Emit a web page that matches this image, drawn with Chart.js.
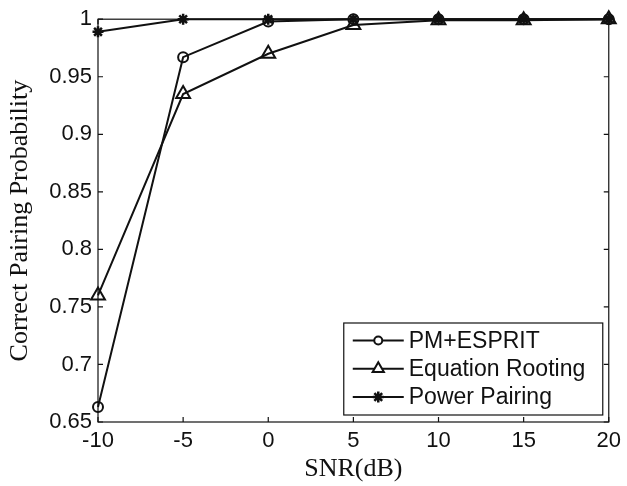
<!DOCTYPE html>
<html><head><meta charset="utf-8">
<script src="https://cdn.jsdelivr.net/npm/chart.js@4"></script>
<style>html,body{margin:0;padding:0;background:#fff}</style>
</head><body>
<canvas id="c" width="627" height="486" style="display:block;width:627px;height:486px"></canvas>
<script>
// ---- data ----
const snr = [-10, -5, 0, 5, 10, 15, 20];
const pmEsprit = [0.663, 0.967, 0.998, 1.0, 1.0, 1.0, 1.0];
const eqRooting = [0.760, 0.935, 0.970, 0.995, 0.999, 0.999, 1.0];
const powerPairing = [0.989, 1.0, 1.0, 1.0, 1.0, 1.0, 1.0];
const seriesNames = ['PM+ESPRIT', 'Equation Rooting', 'Power Pairing'];
const xTickValues = [-10, -5, 0, 5, 10, 15, 20];
const xTickLabels = ['-10', '-5', '0', '5', '10', '15', '20'];
const yTickValues = [0.65, 0.7, 0.75, 0.8, 0.85, 0.9, 0.95, 1];
const yTickLabels = ['0.65', '0.7', '0.75', '0.8', '0.85', '0.9', '0.95', '1'];
const xTitle = 'SNR(dB)';
const yTitle = 'Correct Pairing Probability';

const INK = '#111';
const SANS = '"Liberation Sans", Arial, sans-serif';
const SERIF = '"Liberation Serif", "Times New Roman", serif';

function pts(vals) { return snr.map((s, i) => ({ x: s, y: vals[i] })); }

const styles = [
  { pointStyle: 'circle', radius: 5, legendRadius: 4, bw: 2 },
  { pointStyle: 'triangle', radius: 8, legendRadius: 6.5, bw: 2 },
  { pointStyle: 'star', radius: 5.5, legendRadius: 5.5, bw: 2.5 }
];
const seriesData = [pmEsprit, eqRooting, powerPairing];

const datasets = seriesData.map((vals, i) => ({
  label: seriesNames[i],
  data: pts(vals),
  borderColor: INK,
  backgroundColor: 'rgba(0,0,0,0)',
  borderWidth: 2,
  pointStyle: styles[i].pointStyle,
  pointRadius: styles[i].radius,
  pointBorderWidth: styles[i].bw,
  pointBorderColor: INK,
  pointBackgroundColor: 'rgba(0,0,0,0)',
  tension: 0,
  clip: false
}));

const framePlugin = {
  id: 'frame',
  afterDatasetsDraw(chart) {
    const { ctx, chartArea: a, scales: { x, y } } = chart;
    ctx.save();
    ctx.strokeStyle = INK;
    ctx.lineWidth = 1.2;
    ctx.strokeRect(a.left, a.top, a.right - a.left, a.bottom - a.top);
    const tl = 5;
    ctx.beginPath();
    xTickValues.forEach(v => {
      const p = x.getPixelForValue(v);
      ctx.moveTo(p, a.bottom); ctx.lineTo(p, a.bottom - tl);
      ctx.moveTo(p, a.top); ctx.lineTo(p, a.top + tl);
    });
    yTickValues.forEach(v => {
      const p = y.getPixelForValue(v);
      ctx.moveTo(a.left, p); ctx.lineTo(a.left + tl, p);
      ctx.moveTo(a.right, p); ctx.lineTo(a.right - tl, p);
    });
    ctx.stroke();
    ctx.restore();
  }
};

const legendPlugin = {
  id: 'boxLegend',
  afterDraw(chart) {
    const { ctx, chartArea: a } = chart;
    const w = 259, h = 92;
    const right = a.right - 6, bottom = a.bottom - 7;
    const left = right - w, top = bottom - h;
    ctx.save();
    ctx.fillStyle = '#fff';
    ctx.fillRect(left, top, w, h);
    ctx.strokeStyle = INK;
    ctx.lineWidth = 1.2;
    ctx.strokeRect(left, top, w, h);
    const rowH = 28.3;
    const y0 = top + 17.5;
    chart.data.datasets.forEach((ds, i) => {
      const cy = y0 + i * rowH;
      const lx0 = left + 9, lx1 = left + 60, mx = (lx0 + lx1) / 2;
      ctx.strokeStyle = INK;
      ctx.lineWidth = 2;
      ctx.beginPath(); ctx.moveTo(lx0, cy); ctx.lineTo(lx1, cy); ctx.stroke();
      ctx.fillStyle = '#fff';
      ctx.lineWidth = styles[i].bw;
      Chart.helpers.drawPoint(ctx, { pointStyle: ds.pointStyle, radius: styles[i].legendRadius, borderWidth: styles[i].bw, rotation: 0 }, mx, cy);
      ctx.fillStyle = INK;
      ctx.font = '23px ' + SANS;
      ctx.textBaseline = 'middle';
      ctx.textAlign = 'left';
      ctx.fillText(ds.label, left + 65, cy + 1);
    });
    ctx.restore();
  }
};

new Chart(document.getElementById('c'), {
  type: 'line',
  data: { datasets },
  plugins: [framePlugin, legendPlugin],
  options: {
    responsive: false,
    animation: false,
    devicePixelRatio: 1,
    layout: { padding: { left: 0, top: 18, right: 15, bottom: 0 } },
    plugins: { legend: { display: false }, tooltip: { enabled: false } },
    scales: {
      x: {
        type: 'linear',
        min: -10, max: 20,
        afterBuildTicks(s) { s.ticks = xTickValues.map(v => ({ value: v })); },
        afterFit(s) { s.height = 64; },
        grid: { display: false, drawTicks: false },
        border: { display: false },
        ticks: {
          color: INK, padding: 6,
          font: { family: SANS, size: 22 },
          callback: (v) => xTickLabels[xTickValues.indexOf(v)]
        },
        title: { display: true, text: xTitle, color: INK, font: { family: SERIF, size: 26, lineHeight: 1 }, padding: { top: 0, bottom: 4 } }
      },
      y: {
        type: 'linear',
        min: 0.65, max: 1,
        afterBuildTicks(s) { s.ticks = yTickValues.map(v => ({ value: v })); },
        afterFit(s) { s.width = 98; },
        grid: { display: false, drawTicks: false },
        border: { display: false },
        ticks: {
          color: INK, padding: 6,
          font: { family: SANS, size: 22 },
          callback: (v) => { const k = yTickValues.findIndex(t => Math.abs(t - v) < 1e-9); return k >= 0 ? yTickLabels[k] : ''; }
        },
        title: { display: true, text: yTitle, color: INK, font: { family: SERIF, size: 26, lineHeight: 1 }, padding: { top: 7, bottom: 0 } }
      }
    }
  }
});
</script>
</body></html>
